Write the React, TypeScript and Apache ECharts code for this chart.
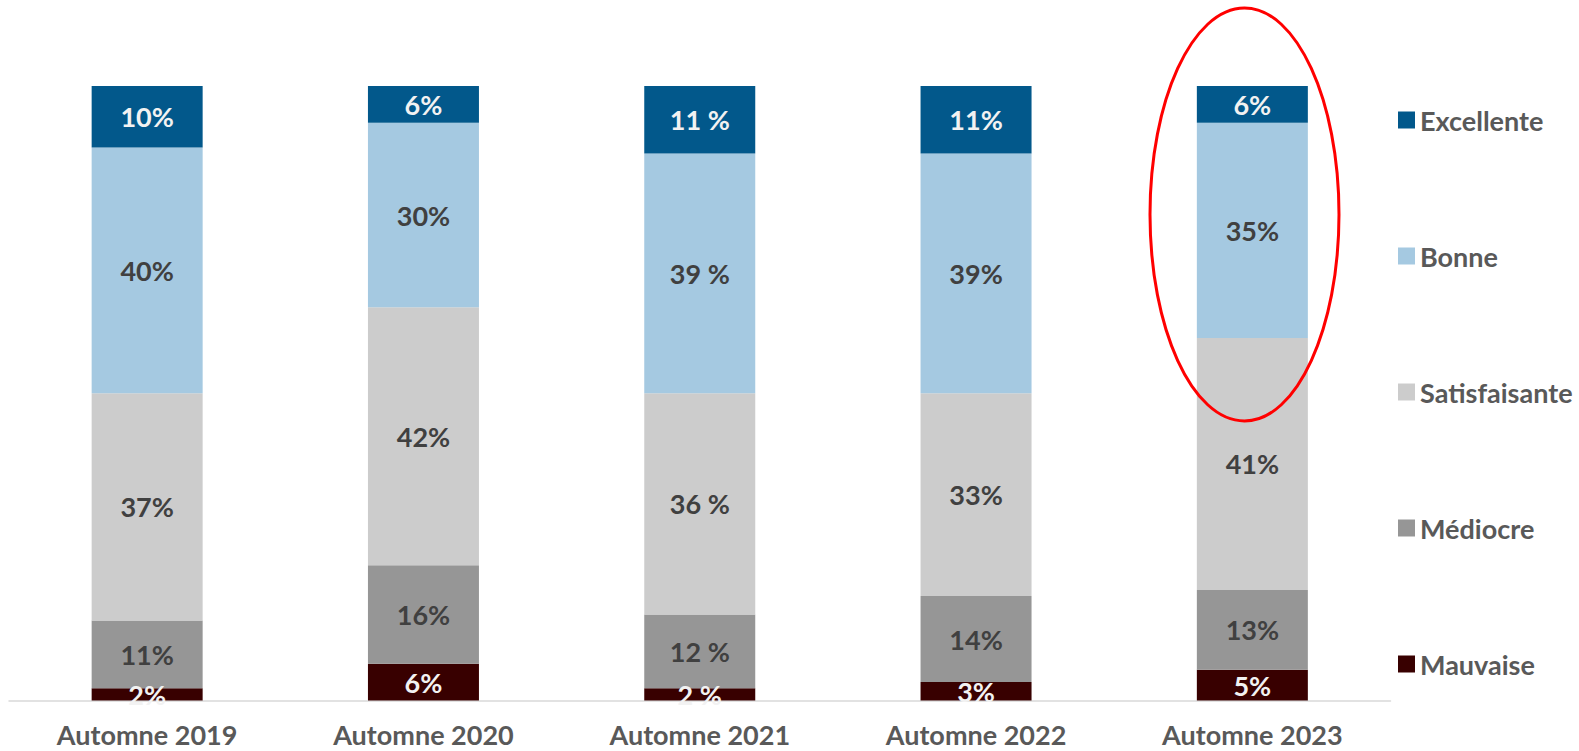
import React, { useEffect, useRef } from "react";
import * as echarts from "echarts";

const categories = ["Automne 2019", "Automne 2020", "Automne 2021", "Automne 2022", "Automne 2023"];
const seriesNames = ["Mauvaise", "Médiocre", "Satisfaisante", "Bonne", "Excellente"];
const mauvaise = [2, 6, 2, 3, 5];
const mediocre = [11, 16, 12, 14, 13];
const satisfaisante = [37, 42, 36, 33, 41];
const bonne = [40, 30, 39, 39, 35];
const excellente = [10, 6, 11, 11, 6];
const pctSuffix = ["%", "%", " %", "%", "%"];
const legendOrder = ["Excellente", "Bonne", "Satisfaisante", "Médiocre", "Mauvaise"];

const colors = ["#380000", "#969696", "#CCCCCC", "#A5C9E1", "#02588B"];
const labelColors = ["#F2F2F2", "#404040", "#404040", "#404040", "#F2F2F2"];
const FONT = "Lato";

export default function App() {
  const ref = useRef<HTMLDivElement>(null);
  useEffect(() => {
    if (!ref.current) return;
    const chart = echarts.init(ref.current, null, { renderer: "svg" });
    const values = [mauvaise, mediocre, satisfaisante, bonne, excellente];
    chart.setOption({
      animation: false,
      backgroundColor: "#ffffff",
      grid: { left: 9, top: 86, width: 1381.5, height: 614.5, containLabel: false },
      legend: {
        orient: "vertical",
        left: 1398,
        top: 105,
        padding: 0,
        itemWidth: 17,
        itemHeight: 17,
        itemGap: 106,
        icon: "rect",
        data: legendOrder,
        textStyle: {
          fontFamily: FONT,
          fontWeight: "bold",
          fontSize: 27,
          color: "#595959",
          lineHeight: 30,
        },
      },
      xAxis: {
        type: "category",
        data: categories,
        axisLine: { lineStyle: { color: "#D9D9D9", width: 1.5 } },
        axisTick: { show: false },
        axisLabel: {
          margin: 22,
          fontFamily: FONT,
          fontWeight: "bold",
          fontSize: 27,
          lineHeight: 24,
          color: "#595959",
        },
      },
      yAxis: { type: "value", min: 0, max: 100, show: false, splitLine: { show: false } },
      graphic: [
        {
          type: "ellipse",
          shape: { cx: 1244.5, cy: 214.5, rx: 94.5, ry: 206.5 },
          style: { fill: "none", stroke: "#FF0000", lineWidth: 3 },
          z: 100,
        },
      ],
      series: seriesNames.map((name, i) => ({
        name,
        type: "bar",
        stack: "total",
        barWidth: 111,
        data: values[i],
        itemStyle: { color: colors[i] },
        label: {
          show: true,
          position: "inside",
          fontFamily: FONT,
          fontWeight: "bold",
          fontSize: 27,
          color: labelColors[i],
          formatter: (p: any) => p.value + pctSuffix[p.dataIndex],
        },
      })),
    });
    return () => chart.dispose();
  }, []);
  return (
    <div
      ref={ref}
      style={{ position: "fixed", left: 0, top: 0, width: 1579, height: 751 }}
    />
  );
}
